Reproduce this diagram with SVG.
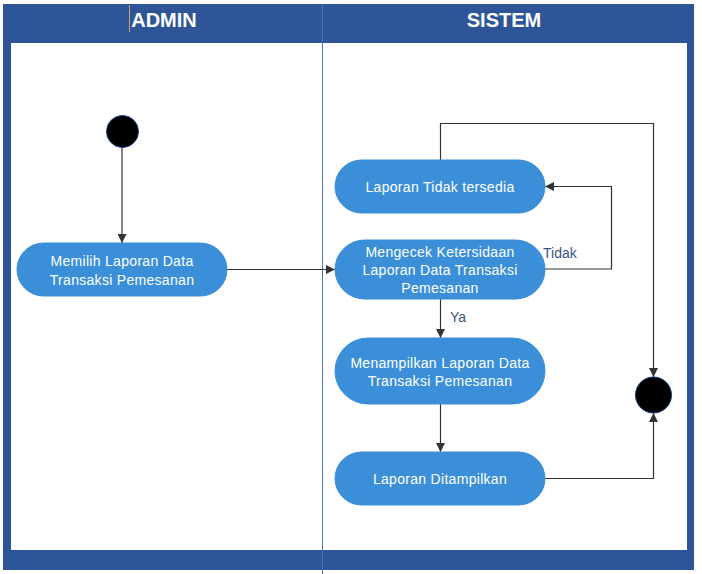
<svg xmlns="http://www.w3.org/2000/svg" width="702" height="574" viewBox="0 0 702 574">
<style>
.hdr{font-family:"Liberation Sans",Arial,sans-serif;font-weight:bold;font-size:20px;fill:#ffffff;text-anchor:middle}
.node rect{fill:#3b8fd8;stroke:#3b8fd8}
.node text{font-family:"Liberation Sans",Arial,sans-serif;font-size:14px;letter-spacing:0.3px;fill:#ffffff;text-anchor:middle}
.conn path{fill:none;stroke:#333333;stroke-width:1.2}
.lbl{font-family:"Liberation Sans",Arial,sans-serif;font-size:14px;fill:#35557f}
</style>
<defs>
<marker id="arr" viewBox="0 0 10 10" refX="10" refY="5" markerWidth="9" markerHeight="9" markerUnits="userSpaceOnUse" orient="auto">
<path d="M0,0 L10,5 L0,10 z" fill="#333333"/>
</marker>
</defs>
<rect x="0" y="0" width="702" height="574" fill="#ffffff"/>
<g id="pool">
<rect x="3" y="4" width="691" height="566" fill="#2e5597"/>
<rect x="11" y="43" width="676" height="507" fill="#ffffff"/>
<line x1="322.5" y1="4" x2="322.5" y2="574" stroke="#4a72c4" stroke-width="1"/>
<line x1="129.5" y1="5" x2="129.5" y2="32" stroke="#c8a070" stroke-width="1"/>
<text class="hdr" x="164" y="27">ADMIN</text>
<text class="hdr" x="504" y="27">SISTEM</text>
</g>
<g class="conn" id="connectors">
<path d="M122,147 V243" marker-end="url(#arr)"/>
<path d="M227,269.5 H335" marker-end="url(#arr)"/>
<path d="M545,269 H611.5 V186.5 H545" marker-end="url(#arr)"/>
<path d="M440.5,160 V123.5 H653.5 V377" marker-end="url(#arr)"/>
<path d="M440.5,299 V338" marker-end="url(#arr)"/>
<path d="M440.5,404 V452" marker-end="url(#arr)"/>
<path d="M545,478.5 H653.5 V413" marker-end="url(#arr)"/>
<text class="lbl" x="543" y="258">Tidak</text>
<text class="lbl" x="450" y="322">Ya</text>
</g>
<g id="start">
<circle cx="122.5" cy="131.5" r="16" fill="#000000" stroke="#1a3d7a" stroke-width="1"/>
</g>
<g id="end">
<circle cx="653.5" cy="395" r="18" fill="#000000" stroke="#1a3d7a" stroke-width="1"/>
</g>
<g class="node" id="memilih">
<rect x="17" y="243" width="210" height="53" rx="26.5"/>
<text x="122" y="266">Memilih Laporan Data</text>
<text x="122" y="285">Transaksi Pemesanan</text>
</g>
<g class="node" id="tidak-tersedia">
<rect x="335" y="160" width="210" height="53" rx="26.5"/>
<text x="440" y="192">Laporan Tidak tersedia</text>
</g>
<g class="node" id="mengecek">
<rect x="335" y="240" width="210" height="59" rx="29.5"/>
<text x="440" y="257">Mengecek Ketersidaan</text>
<text x="440" y="275">Laporan Data Transaksi</text>
<text x="440" y="293">Pemesanan</text>
</g>
<g class="node" id="menampilkan">
<rect x="335" y="338" width="210" height="66" rx="33"/>
<text x="440" y="368">Menampilkan Laporan Data</text>
<text x="440" y="386">Transaksi Pemesanan</text>
</g>
<g class="node" id="ditampilkan">
<rect x="335" y="452" width="210" height="53" rx="26.5"/>
<text x="440" y="484">Laporan Ditampilkan</text>
</g>
</svg>
